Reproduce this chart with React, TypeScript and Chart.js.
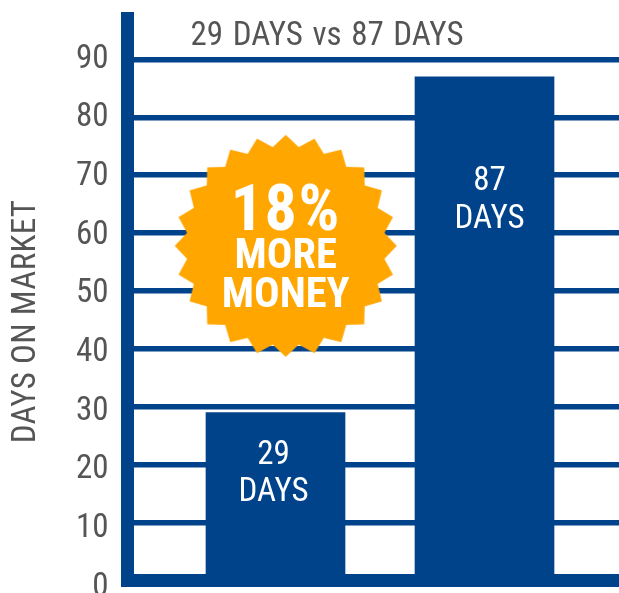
import React, { useEffect, useRef } from "react";
import { Chart, registerables } from "chart.js";

Chart.register(...registerables);

const BLUE = "#00438A";
const ORANGE = "#FFA600";
const GREY = "#555555";
const FONT = "Roboto, sans-serif";

const barX = [1, 2];
const barValues = [29, 87];
const barTexts = [["29", "DAYS"], ["87", "DAYS"]];
const barTextLevels = [[21.5, 15.1], [68.8, 62.3]];
const tickValues = [0, 10, 20, 30, 40, 50, 60, 70, 80, 90];
const yTitle = "DAYS ON MARKET";
const topTitle = "29 DAYS vs 87 DAYS";
const badgePoint = [{ x: 1.049, y: 57.8 }];
const badgeLines = ["18%", "MORE", "MONEY"];

function makeStar(): HTMLCanvasElement {
  const c = document.createElement("canvas");
  c.width = 226;
  c.height = 226;
  const g = c.getContext("2d")!;
  g.fillStyle = ORANGE;
  g.beginPath();
  for (let i = 0; i < 48; i++) {
    const r = i % 2 === 0 ? 111 : 99.5;
    const a = (i * Math.PI) / 24 - Math.PI / 2;
    const px = 113 + r * Math.cos(a);
    const py = 113 + r * Math.sin(a);
    if (i === 0) g.moveTo(px, py);
    else g.lineTo(px, py);
  }
  g.closePath();
  g.fill();
  return c;
}

const textPlugin = {
  id: "texts",
  afterDatasetsDraw(chart: any) {
    const { ctx, scales } = chart;
    const x = scales.x;
    const y = scales.y;
    ctx.save();
    ctx.textAlign = "center";
    ctx.textBaseline = "middle";

    ctx.fillStyle = "#FFFFFF";
    ctx.font = `condensed 33px ${FONT}`;
    barX.forEach((bx, i) => {
      const cx = x.getPixelForValue(bx) - 2 + i * 7;
      ctx.fillText(barTexts[i][0], cx, y.getPixelForValue(barTextLevels[i][0]));
      ctx.fillText(barTexts[i][1], cx, y.getPixelForValue(barTextLevels[i][1]));
    });

    const bx = x.getPixelForValue(badgePoint[0].x);
    const by = y.getPixelForValue(badgePoint[0].y);
    ctx.font = `condensed bold 64px ${FONT}`;
    ctx.letterSpacing = "1.5px";
    ctx.fillText(badgeLines[0], bx, by - 32);
    ctx.letterSpacing = "0px";
    ctx.font = `condensed bold 42.5px ${FONT}`;
    ctx.fillText(badgeLines[1], bx, by + 12);
    ctx.fillText(badgeLines[2], bx, by + 51);

    ctx.fillStyle = GREY;
    ctx.font = `condensed 33px ${FONT}`;
    ctx.wordSpacing = "2px";
    ctx.fillText(topTitle, 327, 37);
    ctx.wordSpacing = "0px";

    ctx.translate(27, 321.5);
    ctx.rotate(-Math.PI / 2);
    ctx.letterSpacing = "0.3px";
    ctx.fillText(yTitle, 0, 0);
    ctx.restore();
  },
};

export default function App() {
  const ref = useRef<HTMLCanvasElement>(null);
  useEffect(() => {
    const chart = new Chart(ref.current!, {
      type: "bar",
      data: {
        datasets: [
          {
            type: "scatter",
            data: badgePoint,
            pointStyle: makeStar(),
            pointRadius: 113,
            yAxisID: "y",
            order: 1,
          } as any,
          {
            type: "bar",
            data: barX.map((v, i) => ({ x: v, y: barValues[i] })),
            backgroundColor: BLUE,
            barThickness: 139,
            yAxisID: "y",
            order: 2,
          },
        ],
      },
      options: {
        responsive: false,
        animation: false,
        layout: { autoPadding: false, padding: { top: 18.5, bottom: 0, left: 0, right: 0 } },
        plugins: { legend: { display: false }, tooltip: { enabled: false } },
        scales: {
          x: {
            type: "linear",
            offset: false,
            min: 0.2919,
            max: 2.6435,
            ticks: { display: false },
            grid: { display: false, drawTicks: false, offset: false },
            border: { display: true, color: BLUE, width: 13 },
            afterFit: (s: any) => { s.height = 12.5; },
          },
          yLabels: {
            type: "linear",
            position: "left",
            weight: 2,
            min: 1.19,
            max: 96.98,
            grid: { display: false, drawTicks: false },
            border: { display: false },
            ticks: {
              padding: 19,
              color: GREY,
              autoSkip: false,
              font: { family: FONT, size: 33, weight: "condensed" },
            },
            afterBuildTicks: (s: any) => {
              s.ticks = tickValues.map((value) => ({ value }));
            },
            afterFit: (s: any) => {
              s.width = 127.5;
              s.paddingTop = 0;
              s.paddingBottom = 0;
            },
          },
          y: {
            type: "linear",
            position: "left",
            weight: 1,
            min: 0,
            max: 97.06,
            ticks: { display: false, stepSize: 10, includeBounds: false },
            grid: { color: BLUE, lineWidth: 5.4, drawTicks: false },
            border: { display: true, color: BLUE, width: 13 },
            afterFit: (s: any) => { s.width = 0; },
          },
        },
      } as any,
      plugins: [textPlugin],
    });
    return () => chart.destroy();
  }, []);
  return (
    <div style={{ position: "absolute", left: 0, top: 0, width: 619, height: 593, background: "#fff" }}>
      <canvas ref={ref} width={619} height={593} style={{ display: "block" }} />
    </div>
  );
}
